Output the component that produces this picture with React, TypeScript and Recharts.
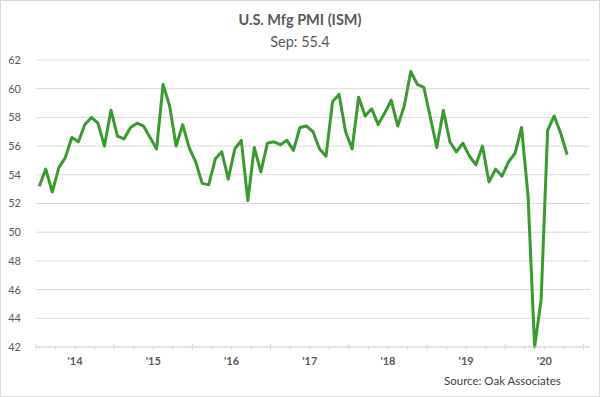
import { LineChart, Line, XAxis, YAxis, CartesianGrid } from "recharts";

// monthly readings, Dec 2013 .. Sep 2020
const START_YEAR = 2013;
const START_MONTH = 11; // December, 0-based
const MONTH_NAMES = ["Jan", "Feb", "Mar", "Apr", "May", "Jun", "Jul", "Aug", "Sep", "Oct", "Nov", "Dec"];

const PMI = [
  53.2, 54.4, 52.8, 54.5, 55.2, 56.6, 56.3, 57.5, 58.0, 57.6, 56.0, 58.5,
  56.7, 56.5, 57.3, 57.6, 57.4, 56.6, 55.8, 60.3, 58.8, 56.0, 57.5, 55.9,
  54.9, 53.4, 53.3, 55.1, 55.6, 53.7, 55.8, 56.4, 52.2, 55.9, 54.2, 56.2,
  56.3, 56.1, 56.4, 55.7, 57.3, 57.4, 57.0, 55.8, 55.3, 59.1, 59.6, 57.0,
  55.8, 59.4, 58.1, 58.6, 57.5, 58.3, 59.2, 57.4, 58.8, 61.2, 60.3, 60.1,
  58.0, 55.9, 58.5, 56.3, 55.6, 56.2, 55.3, 54.7, 56.0, 53.5, 54.4, 53.9,
  54.9, 55.5, 57.3, 52.5, 42.0, 45.3, 57.1, 58.1, 56.9, 55.4,
];

const Y_TICKS = [42, 44, 46, 48, 50, 52, 54, 56, 58, 60, 62];
const YEAR_LABELS = ["'14", "'15", "'16", "'17", "'18", "'19", "'20"];
// quarter boundaries on the month index axis
const X_TICKS = Array.from({ length: 29 }, (_, k) => k * 3 - 0.5);

const FONT = "Lato, 'Open Sans', sans-serif";
const TEXT = "#595959";
const GRID = "#d9d9d9";
const GREEN = "#3a9a2f";

const data = PMI.map((v, i) => {
  const m = START_MONTH + i;
  return {
    idx: i,
    month: `${MONTH_NAMES[m % 12]} ${START_YEAR + Math.floor(m / 12)}`,
    pmi: v,
  };
});

type TickProps = { x?: number; y?: number; payload?: { value: number } };

const YearTick = ({ x = 0, y = 0, payload }: TickProps) => {
  const pos = (payload?.value ?? 0) + 0.5;
  const major = pos % 12 === 0;
  const li = (pos - 6) / 12;
  const label = Number.isInteger(li) ? YEAR_LABELS[li] : undefined;
  return (
    <g>
      <line x1={x} x2={x} y1={major ? y - 3 : y} y2={y + 3} stroke={GRID} />
      {label && (
        <text x={x} y={y + 17.5} textAnchor="middle" fontSize={11} fontWeight={700} fill={TEXT} fontFamily={FONT}>
          {label}
        </text>
      )}
    </g>
  );
};

export default function App() {
  return (
    <div style={{ position: "relative", width: 600, height: 397 }}>
      <style>{"body{margin:0}"}</style>
      <div
        style={{
          position: "absolute",
          inset: 0,
          border: "1px solid #d9d9d9",
          boxSizing: "border-box",
          background: "#fff",
        }}
      />
      <div style={{ position: "absolute", left: 0, top: 0 }}>
        <LineChart width={600} height={397} data={data} margin={{ top: 60, right: 10, bottom: 20, left: 6 }}>
          <CartesianGrid vertical={false} stroke={GRID} />
          <XAxis
            type="number"
            dataKey="idx"
            domain={[-0.5, 84.5]}
            ticks={X_TICKS}
            interval={0}
            tick={<YearTick />}
            tickLine={false}
            tickSize={0}
            tickMargin={0}
            height={30}
            axisLine={{ stroke: GRID }}
          />
          <YAxis
            type="number"
            domain={[42, 62]}
            ticks={Y_TICKS}
            interval={0}
            width={30}
            axisLine={false}
            tickLine={false}
            tickMargin={9}
            tick={{ fontSize: 11, fill: TEXT, fontFamily: FONT }}
          />
          <Line
            type="linear"
            dataKey="pmi"
            stroke={GREEN}
            strokeWidth={3}
            strokeLinejoin="round"
            dot={false}
            isAnimationActive={false}
          />
        </LineChart>
      </div>
      <svg width={600} height={397} style={{ position: "absolute", left: 0, top: 0, pointerEvents: "none" }}>
        <text x={300} y={25} textAnchor="middle" fontSize={14.5} fontWeight={700} fill={TEXT} fontFamily={FONT}>
          U.S. Mfg PMI (ISM)
        </text>
        <text x={300} y={47} textAnchor="middle" fontSize={14.5} fill={TEXT} fontFamily={FONT}>
          Sep: 55.4
        </text>
        <text x={444} y={385} fontSize={11.5} fill="#404040" fontFamily={FONT}>
          Source: Oak Associates
        </text>
      </svg>
    </div>
  );
}
